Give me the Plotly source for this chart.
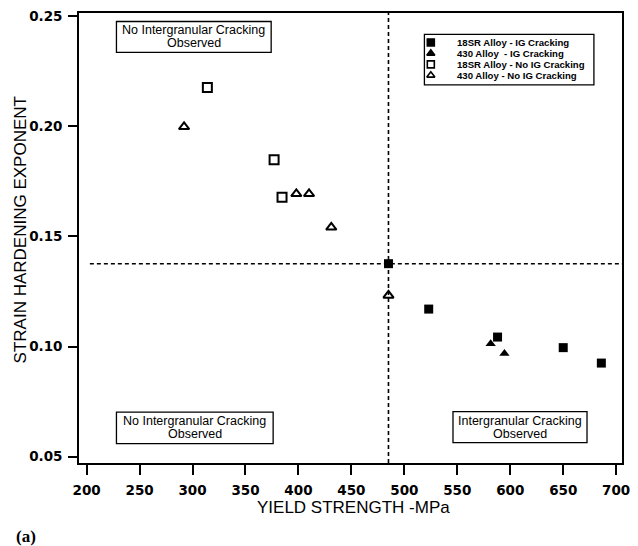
import plotly.graph_objects as go

# ---- data: yield strength (MPa) vs strain hardening exponent ----
sr18_ig_ys = [485, 523, 588, 650, 686]
sr18_ig_n = [0.1376, 0.117, 0.1043, 0.0995, 0.0925]

a430_ig_ys = [581.5, 594.5]
a430_ig_n = [0.1013, 0.0968]

sr18_noig_ys = [314, 377, 384.5]
sr18_noig_n = [0.2175, 0.1848, 0.1677]

a430_noig_ys = [292, 398, 410, 431, 485]
a430_noig_n = [0.1997, 0.1693, 0.1693, 0.1541, 0.1232]

# threshold values separating the cracking regimes
ys_threshold = 485
n_threshold = 0.1376

series_labels = [
    "18SR Alloy - IG Cracking",
    "430 Alloy  - IG Cracking",
    "18SR Alloy - No IG Cracking",
    "430 Alloy - No IG Cracking",
]
series_symbols = ["square", "triangle-up", "square-open", "triangle-up-open"]

x_ticks = list(range(200, 701, 50))
y_ticks = [0.05, 0.10, 0.15, 0.20, 0.25]

SANS = "Liberation Sans, Arial, sans-serif"
TICKFONT = dict(family="DejaVu Sans, sans-serif", size=13.5, color="black", weight="bold")

# ---- layout geometry (pixels) ----
W, H = 638, 546
ML, MR, MT, MB = 79, 8, 12, 83
PW, PH = W - ML - MR, H - MT - MB


def px_x(px):
    return (px - ML) / PW


def px_y(py):
    return (H - MB - py) / PH


fig = go.Figure()

groups = [
    (sr18_ig_ys, sr18_ig_n, series_symbols[0], 9, 0),
    (a430_ig_ys, a430_ig_n, series_symbols[1], 9, 0),
    (sr18_noig_ys, sr18_noig_n, series_symbols[2], 9, 2),
    (a430_noig_ys, a430_noig_n, series_symbols[3], 9, 2),
]
for (xs, ys, sym, sz, lw), name in zip(groups, series_labels):
    fig.add_trace(go.Scatter(
        x=xs, y=ys, mode="markers", name=name, showlegend=False,
        marker=dict(symbol=sym, size=sz, color="black",
                    line=dict(color="black", width=lw)),
        cliponaxis=False,
    ))

# legend swatches on an overlay axis spanning the plot area [0, 1]
legend_rows_px = [41.5, 52.5, 63.5, 74.5]
legend_marker_px = 436
legend_text_px = 461
fig.add_trace(go.Scatter(
    x=[px_x(legend_marker_px)] * len(series_symbols),
    y=[px_y(p) for p in legend_rows_px],
    mode="markers", showlegend=False, xaxis="x2", yaxis="y2",
    marker=dict(symbol=series_symbols, size=7, color="black",
                line=dict(color="black", width=1.6)),
    hoverinfo="skip",
))

shapes = []
annotations = []

# threshold lines
dash = "4px,3px"
shapes.append(dict(type="line", xref="x", yref="paper", x0=ys_threshold, x1=ys_threshold,
                   y0=0, y1=1, line=dict(color="black", width=1.6, dash=dash), layer="below"))
shapes.append(dict(type="line", xref="paper", yref="y", x0=0.02, x1=1, y0=n_threshold,
                   y1=n_threshold, line=dict(color="black", width=1.6, dash=dash), layer="below"))

# legend frame and labels
shapes.append(dict(type="rect", xref="paper", yref="paper",
                   x0=px_x(429.5), x1=px_x(601.5), y0=px_y(84), y1=px_y(33.5),
                   line=dict(color="black", width=1.3), fillcolor="white", layer="below"))
for label, p in zip(series_labels, legend_rows_px):
    annotations.append(dict(xref="paper", yref="paper", x=px_x(legend_text_px), y=px_y(p),
                            text=label, showarrow=False, xanchor="left", yanchor="middle",
                            font=dict(family=SANS, size=9.6, color="black", weight="bold")))

# region boxes
region_boxes = [
    # (left, right, top, bottom, line1, line2)
    (117, 274, 20.5, 51.5, "No Intergranular Cracking", "Observed"),
    (117, 276, 412, 443.5, "No Intergranular Cracking", "Observed"),
    (458.5, 594.5, 411.5, 442.5, "Intergranular Cracking", "Observed"),
]
for l, r, t, b, t1, t2 in region_boxes:
    shapes.append(dict(type="rect", xref="paper", yref="paper",
                       x0=px_x(l), x1=px_x(r), y0=px_y(b), y1=px_y(t),
                       line=dict(color="black", width=1.3), fillcolor="white", layer="below"))
    cx = px_x((l + r) / 2)
    mid = (t + b) / 2
    for txt, py in ((t1, mid - 6.5), (t2, mid + 6.5)):
        annotations.append(dict(xref="paper", yref="paper", x=cx, y=px_y(py), text=txt,
                                showarrow=False, xanchor="center", yanchor="middle",
                                font=dict(family=SANS, size=12.5, color="black")))

# axis titles and panel label
annotations.append(dict(xref="paper", yref="paper", x=px_x(358), y=px_y(508),
                        text="YIELD STRENGTH -MPa", showarrow=False,
                        xanchor="center", yanchor="middle",
                        font=dict(family=SANS, size=17, color="black")))
annotations.append(dict(xref="paper", yref="paper", x=px_x(20), y=px_y(229),
                        text="STRAIN HARDENING EXPONENT", showarrow=False, textangle=-90,
                        xanchor="center", yanchor="middle",
                        font=dict(family=SANS, size=17, color="black")))
annotations.append(dict(xref="paper", yref="paper", x=px_x(25), y=px_y(537),
                        text="(a)", showarrow=False, xanchor="center", yanchor="middle",
                        font=dict(family="Liberation Serif, Times New Roman, serif",
                                  size=17, color="black", weight="bold")))

axis_common = dict(showgrid=False, zeroline=False, showline=True, linecolor="black",
                   linewidth=1.6, mirror=True, ticks="outside", tickcolor="black",
                   tickwidth=1.6, tickfont=TICKFONT)

fig.update_layout(
    width=W, height=H,
    margin=dict(l=ML, r=MR, t=MT, b=MB, pad=0),
    paper_bgcolor="white", plot_bgcolor="white",
    showlegend=False,
    xaxis=dict(range=[192.8, 705.5], tickvals=x_ticks, ticklen=10,
               ticklabelstandoff=4, **axis_common),
    yaxis=dict(range=[0.04715, 0.25136], tickvals=y_ticks, tickformat=".2f",
               ticklen=9, ticklabelstandoff=3, **axis_common),
    xaxis2=dict(overlaying="x", range=[0, 1], visible=False),
    yaxis2=dict(overlaying="y", range=[0, 1], visible=False),
    shapes=shapes,
    annotations=annotations,
)

fig.write_html("out.html")
